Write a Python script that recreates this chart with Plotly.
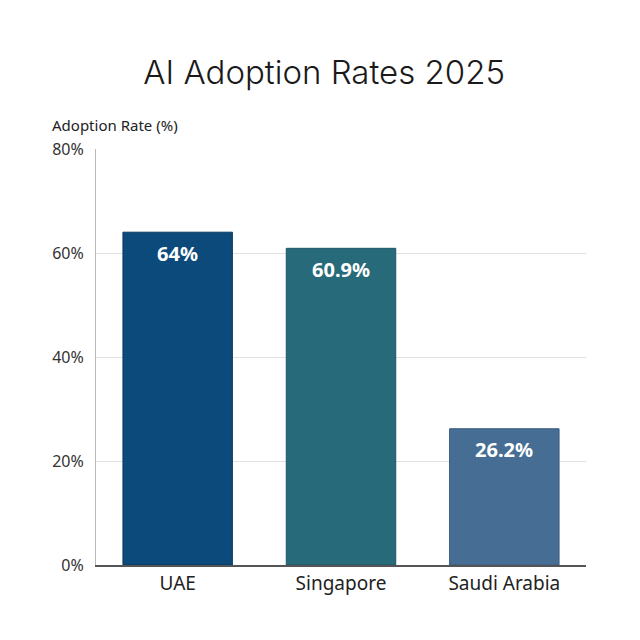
import plotly.graph_objects as go

countries = ["UAE", "Singapore", "Saudi Arabia"]
rates = [64, 60.9, 26.2]
labels = ["64%", "60.9%", "26.2%"]
bar_colors = ["#0c4a7c", "#276b7b", "#466e94"]
line_colors = ["#083a63", "#1d5563", "#365a7c"]

fig = go.Figure()
fig.add_trace(go.Bar(
    x=countries, y=rates,
    marker=dict(color=bar_colors, line=dict(color=line_colors, width=1)),
    hoverinfo="skip",
))

# value labels just under the top of each bar
for c, v, t in zip(countries, rates, labels):
    fig.add_annotation(x=c, y=v, text="<b>%s</b>" % t, showarrow=False,
                       yanchor="middle", yshift=-21,
                       font=dict(family="Noto Sans", size=20, color="white"))

fig.add_annotation(text="Adoption Rate (%)", xref="paper", yref="paper",
                   x=-0.094, y=1.03, xanchor="left", yanchor="bottom", showarrow=False,
                   font=dict(family="Noto Sans", size=15, color="#222"))

fig.update_layout(
    width=640, height=640,
    margin=dict(l=88, r=62, t=141, b=83),
    paper_bgcolor="white", plot_bgcolor="white",
    bargap=0.33,
    showlegend=False,
    title=dict(text="AI Adoption Rates 2025", x=0.494, xref="container",
               y=0.9, yanchor="middle",
               font=dict(family="Inter", size=33, color="#1a1a1a", weight=300)),
)
fig.update_xaxes(showgrid=False, showline=True, linecolor="#555", linewidth=1.5,
                 ticks="", tickfont=dict(family="Noto Sans", size=19, color="#222"))
fig.update_yaxes(range=[0, 80], dtick=20, ticksuffix="%", showgrid=True,
                 gridcolor="#e0e0e0", gridwidth=1, zeroline=False,
                 showline=True, linecolor="#bbbbbb", linewidth=1,
                 ticklabelstandoff=8,
                 tickfont=dict(family="Noto Sans", size=16, color="#333"))

fig.write_html("out.html")
